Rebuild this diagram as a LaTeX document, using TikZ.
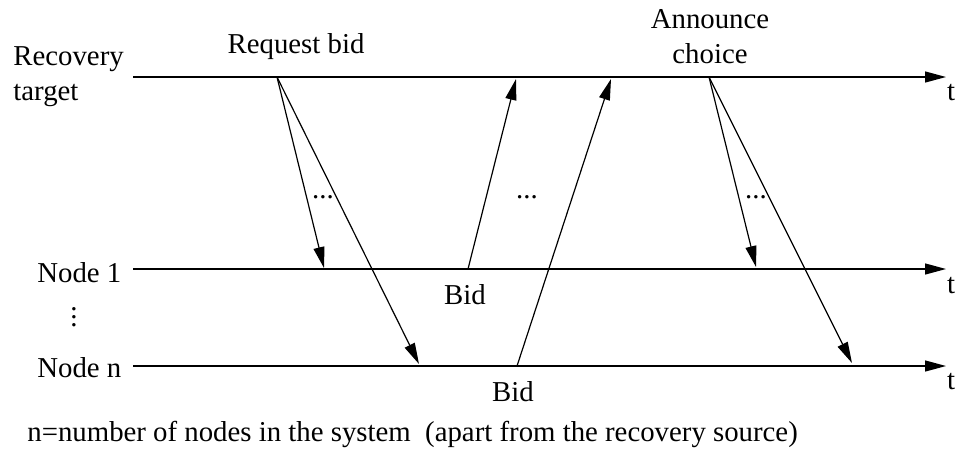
\documentclass[tikz,border=0pt]{standalone}
\usepackage{fontspec}
\setmainfont{Liberation Serif}
\usetikzlibrary{arrows.meta}
\begin{document}
\begin{tikzpicture}[x=0.5pt,y=-0.5pt,
  lbl/.style={inner sep=0pt,font=\fontsize{14.4}{17}\selectfont},
  timeline/.style={line width=0.65pt,-{Triangle[length=10.5pt,width=5.5pt]}},
  msg/.style={line width=0.6pt,-{Triangle[length=10.5pt,width=5.5pt]}}]
\useasboundingbox (0,0) rectangle (958,456);

% time lines
\coordinate (tgtS) at (133,77);
\coordinate (tgtE) at (946,77);
\coordinate (n1S) at (133,269);
\coordinate (n1E) at (946,269);
\coordinate (nnS) at (133,366);
\coordinate (nnE) at (946,366);
\draw[timeline] (tgtS) -- (tgtE);
\draw[timeline] (n1S) -- (n1E);
\draw[timeline] (nnS) -- (nnE);

% axis labels
\node[lbl,anchor=base] (t0) at (951,100) {t};
\node[lbl,anchor=base] (t1) at (951,293) {t};
\node[lbl,anchor=base] (t2) at (951,389) {t};

% participant labels
\node[lbl,anchor=base west] (rec) at (13,65) {Recovery};
\node[lbl,anchor=base west] (tgt) at (13,100) {target};
\node[lbl,anchor=base west] (node1) at (37,282) {Node 1};
\node[lbl,anchor=base] (vd) at (74,326) {$\vdots$};
\node[lbl,anchor=base west] (noden) at (37,377) {Node n};

% event labels
\node[lbl,anchor=base] (req) at (296,53) {Request bid};
\node[lbl,anchor=base] (ann1) at (710,28) {Announce};
\node[lbl,anchor=base] (ann2) at (710,63) {choice};
\node[lbl,anchor=base] (bid1) at (465,304) {Bid};
\node[lbl,anchor=base] (bidn) at (513,401) {Bid};

% message end points
\coordinate (rq) at (277,77);
\coordinate (rq1) at (324,268);
\coordinate (rqn) at (419,364);
\coordinate (b1s) at (468,269);
\coordinate (b1e) at (516,79);
\coordinate (bns) at (517,366);
\coordinate (bne) at (611,79);
\coordinate (an) at (709,77);
\coordinate (an1) at (756,267);
\coordinate (ann) at (852,363);

% messages
\draw[msg] (rq) -- (rq1);
\draw[msg] (rq) -- (rqn);
\draw[msg] (b1s) -- (b1e);
\draw[msg] (bns) -- (bne);
\draw[msg] (an) -- (an1);
\draw[msg] (an) -- (ann);

% ellipses between fan-out messages
\node[lbl,anchor=base] (d1) at (323,198) {...};
\node[lbl,anchor=base] (d2) at (527,198) {...};
\node[lbl,anchor=base] (d3) at (756,198) {...};

% footnote
\node[lbl,anchor=base west] (note) at (27,441) {n=number of nodes in the system\ \ (apart from the recovery source)};
\end{tikzpicture}
\end{document}
